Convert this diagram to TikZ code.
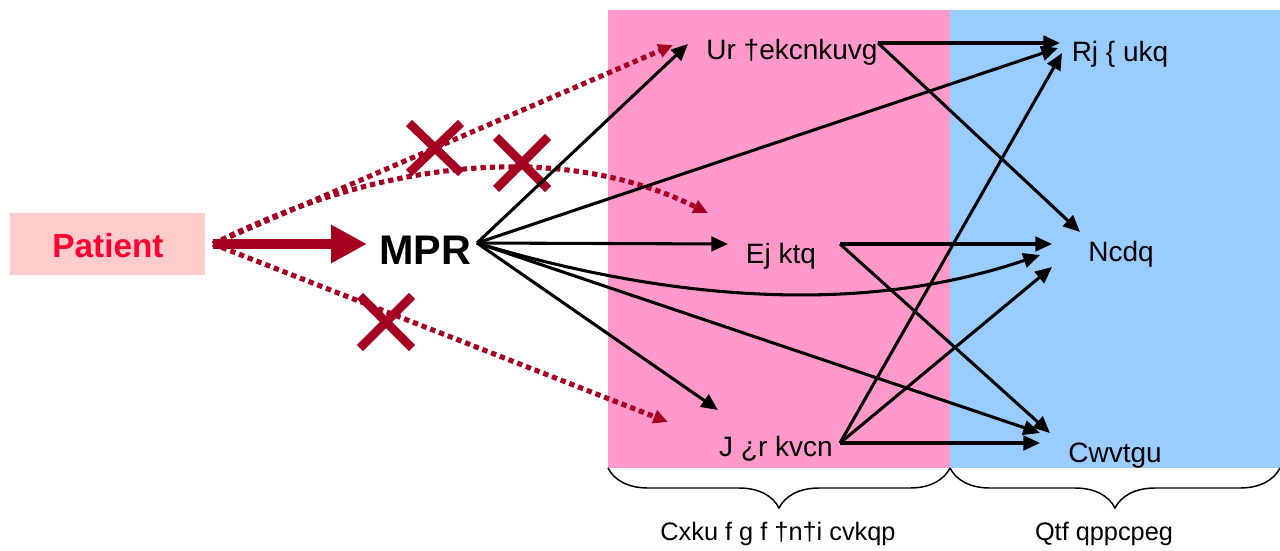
\documentclass[tikz,border=0pt]{standalone}
\usepackage{fontspec}
\setmainfont{Liberation Sans}
\usetikzlibrary{arrows.meta,decorations.pathreplacing}
\definecolor{dred}{RGB}{165,0,33}
\definecolor{pinkreg}{RGB}{255,153,204}
\definecolor{bluereg}{RGB}{153,204,255}
\definecolor{patbox}{RGB}{255,204,204}
\definecolor{patred}{RGB}{255,0,51}
\begin{document}
\begin{tikzpicture}[x=0.75pt,y=-0.75pt,
  lbl/.style={font=\fontsize{21}{25}\selectfont, anchor=base, inner sep=0pt},
  sublbl/.style={font=\fontsize{19}{22}\selectfont, anchor=base, inner sep=0pt},
  blk/.style={line width=2.3pt, -{Triangle[length=12.5pt,width=11pt]}},
  redarr/.style={dred, line width=3.8pt, dash pattern=on 4pt off 3pt, -{Triangle[length=11pt,width=10pt]}},
  bigarr/.style={dred, line width=7.5pt, -{Triangle[length=27pt,width=27pt]}},
  xmark/.style={dred, line width=6.5pt},
  bracestyle/.style={line width=1.1pt, decorate, decoration={brace, amplitude=30pt, aspect=0.5}}
]
\useasboundingbox (0,0) rectangle (1280,550);
% regions
\fill[pinkreg] (608,10) rectangle (950,468);
\fill[bluereg] (950,10) rectangle (1280,468);
% nodes
\node[fill=patbox, minimum width=146.25pt, minimum height=46.5pt, inner sep=0pt] (patbox) at (107.5,244) {};
\node[anchor=base, inner sep=0pt, text=patred, font=\fontsize{25}{30}\selectfont\bfseries] (patient) at (108,257) {Patient};
\node[anchor=base, inner sep=0pt, font=\fontsize{31}{36}\selectfont\bfseries] (mpr) at (425,264) {MPR};
\node[lbl] (spec) at (792,59) {Ur †ekcnkuvg};
\node[lbl] (physio) at (1120,61) {Rj \{ ukq};
\node[lbl] (chiro) at (781,263) {Ej ktq};
\node[lbl] (labo) at (1121,261) {Ncdq};
\node[lbl] (hop) at (776,456) {J ¿r kvcn};
\node[lbl] (autres) at (1115,462) {Cwvtgu};
\node[sublbl] (delg) at (778,540) {Cxku f g f †n†i cvkqp};
\node[sublbl] (ordo) at (1104,540) {Qtf qppcpeg};
% ports
\coordinate (pat-out) at (213,244);
\coordinate (mpr-in) at (367,244);
\coordinate (mpr-out) at (477,243);
\coordinate (spec-in) at (688,44);
\coordinate (spec-rin) at (673,45);
\coordinate (spec-out) at (878,43);
\coordinate (phys-in1) at (1060,43);
\coordinate (phys-in2) at (1058,48);
\coordinate (phys-in3) at (1062,53);
\coordinate (chiro-in) at (728,244);
\coordinate (chiro-rin) at (708,213);
\coordinate (chiro-out) at (840,244);
\coordinate (labo-in1) at (1080,232);
\coordinate (labo-in2) at (1052,244);
\coordinate (labo-in3) at (1040,255);
\coordinate (labo-in4) at (1052,267);
\coordinate (hop-in) at (718,410);
\coordinate (hop-rin) at (668,422);
\coordinate (hop-out) at (840,443);
\coordinate (aut-in1) at (1050,433);
\coordinate (aut-in2) at (1040,433);
\coordinate (aut-in3) at (1040,443);
% braces
\draw[bracestyle] (950,468) -- (608,468);
\draw[bracestyle] (1280,468) -- (950,468);
% red dotted arrows
\draw[redarr] (pat-out) -- (spec-rin);
\draw[redarr] (pat-out) .. controls (380,160) and (560,140) .. (chiro-rin);
\draw[redarr] (pat-out) -- (hop-rin);
% big arrow
\draw[bigarr] (pat-out) -- (mpr-in);
% crosses
\draw[xmark] (409,123) -- (461,173) (409,173) -- (461,123);
\draw[xmark] (496,137) -- (548,189) (496,189) -- (548,137);
\draw[xmark] (360,296) -- (412,348) (360,348) -- (412,296);
% black arrows from MPR
\draw[blk] (mpr-out) -- (spec-in);
\draw[blk] (mpr-out) -- (phys-in2);
\draw[blk] (mpr-out) -- (chiro-in);
\draw[blk] (mpr-out) .. controls (650,295) and (850,320) .. (labo-in3);
\draw[blk] (mpr-out) -- (hop-in);
\draw[blk] (mpr-out) -- (aut-in2);
% from specialist
\draw[blk] (spec-out) -- (phys-in1);
\draw[blk] (spec-out) -- (labo-in1);
% from chiro
\draw[blk] (chiro-out) -- (labo-in2);
\draw[blk] (chiro-out) -- (aut-in1);
% from hospital
\draw[blk] (hop-out) -- (phys-in3);
\draw[blk] (hop-out) -- (labo-in4);
\draw[blk] (hop-out) -- (aut-in3);
\end{tikzpicture}
\end{document}
